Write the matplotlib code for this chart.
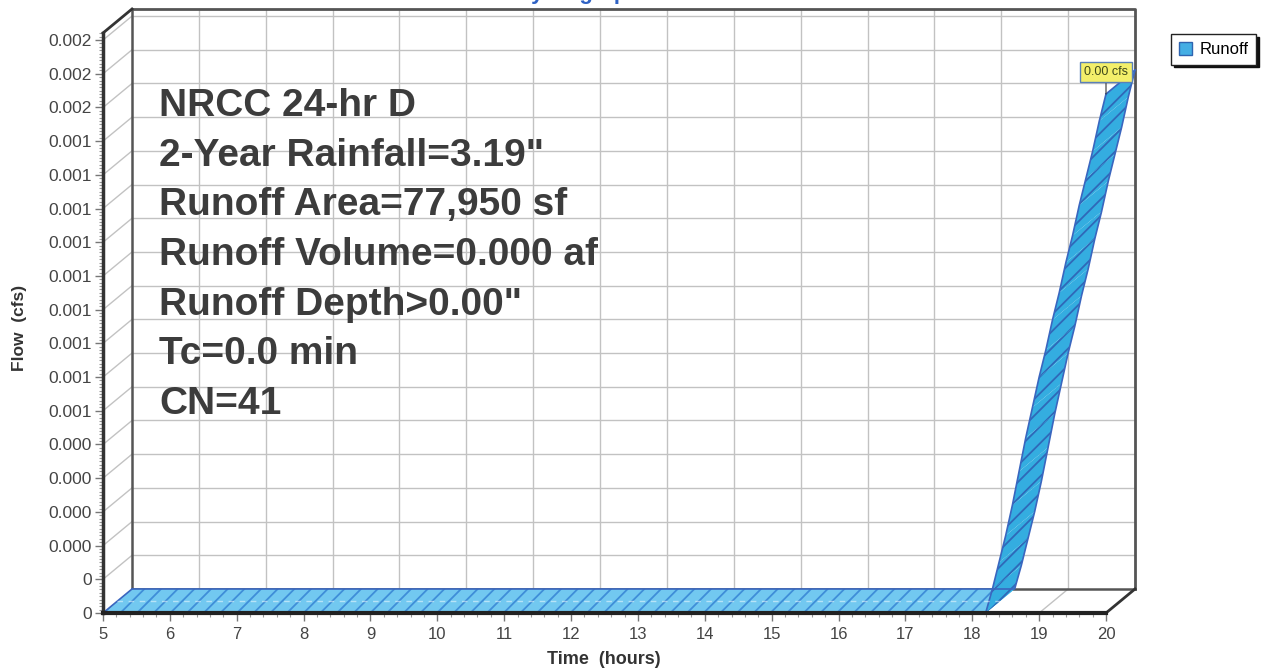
import matplotlib
matplotlib.use("Agg")
import matplotlib.pyplot as plt
from matplotlib.patches import Polygon, Patch
from matplotlib.ticker import MultipleLocator

plt.rcParams['font.family'] = ['Liberation Sans', 'DejaVu Sans']
plt.rcParams['hatch.linewidth'] = 1.3

# runoff hydrograph: time (hours) vs flow (cfs)
time_hr = [5.0, 18.2, 18.3, 18.4, 18.5, 18.6, 18.7, 18.8, 18.9, 19.0,
           19.1, 19.2, 19.3, 19.4, 19.5, 19.6, 19.7, 19.8, 19.9, 20.0]
flow_cfs = [0.0, 0.0, 0.00007, 0.00015, 0.00023, 0.00032, 0.00042, 0.00052,
            0.00061, 0.00070, 0.00078, 0.00087, 0.00095, 0.00104, 0.00112,
            0.00121, 0.00129, 0.00137, 0.00146, 0.00154]
peak_label = "0.00 cfs"

x_ticks = list(range(5, 21))
y_ticks = [0.0, 0.0001, 0.0002, 0.0003, 0.0004, 0.0005, 0.0006, 0.0007, 0.0008,
           0.0009, 0.0010, 0.0011, 0.0012, 0.0013, 0.0014, 0.0015, 0.0016, 0.0017]
y_tick_labels = ["0", "0", "0.000", "0.000", "0.000", "0.000",
                 "0.001", "0.001", "0.001", "0.001", "0.001", "0.001",
                 "0.001", "0.001", "0.001", "0.002", "0.002", "0.002"]

info_lines = ["NRCC 24-hr D", "2-Year Rainfall=3.19\"", "Runoff Area=77,950 sf",
              "Runoff Volume=0.000 af", "Runoff Depth>0.00\"", "Tc=0.0 min", "CN=41"]

W, H = 1265, 670
fig = plt.figure(figsize=(W / 100, H / 100), dpi=100)
ax = fig.add_axes([103 / W, (H - 613) / H, 1003 / W, 580 / H])
ymax = 0.001721
ax.set_xlim(5, 20)
ax.set_ylim(0, ymax)

# depth offset of the back wall, 29 px right / 24 px up
p0 = ax.transData.transform([(5, 0)])[0]
back = ax.transData.inverted().transform([(p0[0] + 29, p0[1] + 24)])[0]
DT, DQ = back[0] - 5, back[1]

grid_c = '#c2c2c2'
wall_c = '#555555'
kw = dict(clip_on=False)

# back wall grid
for y in y_ticks[1:]:
    ax.plot([5 + DT, 20 + DT], [y + DQ, y + DQ], color=grid_c, lw=1, zorder=1, **kw)
    ax.plot([5, 5 + DT], [y, y + DQ], color=grid_c, lw=1, zorder=1, **kw)
for x in x_ticks[1:-1]:
    ax.plot([x + DT, x + DT], [DQ, ymax + DQ], color=grid_c, lw=1, zorder=1, **kw)
    ax.plot([x, x + DT], [0, DQ], color=grid_c, lw=1, zorder=1, **kw)

# back wall frame
ax.plot([5 + DT, 20 + DT, 20 + DT], [ymax + DQ, ymax + DQ, DQ], color=wall_c, lw=2, zorder=2, **kw)
ax.plot([5 + DT, 5 + DT], [DQ, ymax + DQ], color=wall_c, lw=1.8, zorder=2, **kw)
ax.plot([5 + DT, 20 + DT], [DQ, DQ], color=wall_c, lw=1.8, zorder=2, **kw)
ax.plot([5, 5 + DT], [ymax, ymax + DQ], color='#333333', lw=2, zorder=2, **kw)
ax.plot([20, 20 + DT], [0, DQ], color='#333333', lw=2, zorder=2, **kw)

# ribbon: flat floor part and rising part
for i in range(len(time_hr) - 1):
    t0, t1 = time_hr[i], time_hr[i + 1]
    q0, q1 = flow_cfs[i], flow_cfs[i + 1]
    flat = q0 == 0 and q1 == 0
    poly = Polygon([(t0, q0), (t1, q1), (t1 + DT, q1 + DQ), (t0 + DT, q0 + DQ)],
                   closed=True, facecolor='#72c8f0' if flat else '#34ade0',
                   edgecolor='#3f8ed8' if flat else '#2f68b8', lw=0,
                   hatch='//', zorder=3, clip_on=False)
    ax.add_patch(poly)
edge_c = '#3a66bf'
ax.plot(time_hr, flow_cfs, color=edge_c, lw=1.2, zorder=4, clip_on=False)
ax.plot([t + DT for t in time_hr], [q + DQ for q in flow_cfs], color=edge_c, lw=1.2,
        zorder=4, clip_on=False)
ax.plot([5, 5 + DT], [0, DQ], color=edge_c, lw=1.2, zorder=4, clip_on=False)
ax.plot([time_hr[-1], time_hr[-1] + DT], [flow_cfs[-1], flow_cfs[-1] + DQ],
        color=edge_c, lw=1.2, zorder=4, clip_on=False)
ax.plot([5 + DT / 2, 18.2 + DT / 2], [DQ / 2, DQ / 2], color='white', lw=1,
        ls=(0, (4, 4)), alpha=0.5, zorder=4, clip_on=False)

# peak callout
ax.annotate(peak_label, xy=(time_hr[-1], flow_cfs[-1]), xytext=(0, 16),
            textcoords='offset points', ha='center', va='center', fontsize=9,
            color='#3f4a1a', zorder=6, annotation_clip=False,
            bbox=dict(boxstyle='square,pad=0.3', fc='#f3ef6a', ec='#5a80b8', lw=1),
            arrowprops=dict(arrowstyle='-', color='#333333', lw=0.8, shrinkA=0, shrinkB=0))

# axes, ticks
for s in ['top', 'right']:
    ax.spines[s].set_visible(False)
ax.spines['left'].set_color('#333333')
ax.spines['left'].set_linewidth(2.5)
ax.spines['bottom'].set_color('#222222')
ax.spines['bottom'].set_linewidth(3)
ax.spines['left'].set_zorder(5)
ax.spines['bottom'].set_zorder(5)

ax.set_xticks(x_ticks)
ax.set_xticklabels([str(x) for x in x_ticks])
ax.set_yticks(y_ticks)
ax.set_yticklabels(y_tick_labels)
ax.xaxis.set_minor_locator(MultipleLocator(0.2))
ax.yaxis.set_minor_locator(MultipleLocator(0.00001))
ax.tick_params(which='major', length=6, width=1, color='#777777', labelcolor='#444444', pad=2)
ax.tick_params(axis='y', which='major', labelsize=12.5)
ax.tick_params(axis='x', which='major', labelsize=12, pad=4)
ax.tick_params(which='minor', length=3, width=0.8, color='#999999')
ax.set_facecolor('none')

fig.text(20 / W, 1 - 328 / H, "Flow  (cfs)", rotation=90, ha='center', va='center',
         fontsize=12.5, fontweight='bold', color='#333333')
fig.text(604 / W, 1 - 659 / H, "Time  (hours)", ha='center', va='center',
         fontsize=13, fontweight='bold', color='#333333')
fig.text(578 / W, 1 + 1.5 / H, "Hydrograph", ha='center', va='baseline',
         fontsize=16, fontweight='bold', color='#2f62c4')

for i, line in enumerate(info_lines):
    fig.text(159 / W, 1 - (116 + i * 49.7) / H, line, ha='left', va='baseline',
             fontsize=28, fontweight='bold', color='#3c3c3c', zorder=7)

leg = fig.legend(handles=[Patch(facecolor='#44aee4', edgecolor='#2e64b0', label='Runoff')],
                 loc='upper left', bbox_to_anchor=(1163 / W, 1 - 26 / H), frameon=True,
                 fancybox=False, edgecolor='#222222', fontsize=12, handlelength=0.8,
                 handleheight=0.8, borderpad=0.45, handletextpad=0.45,
                 shadow={'color': '#111111', 'alpha': 1.0})
leg.get_frame().set_linewidth(1)

fig.savefig("out.png", dpi=100, facecolor='white')
